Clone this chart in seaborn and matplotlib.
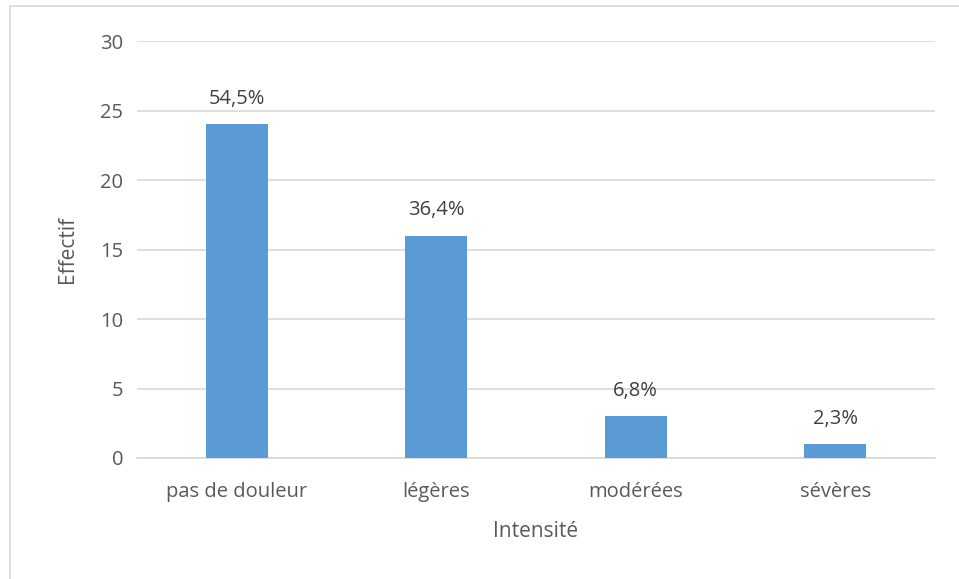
import matplotlib
matplotlib.use("Agg")
import matplotlib.pyplot as plt
import seaborn as sns
import pandas as pd
from matplotlib.lines import Line2D

categories = ["pas de douleur", "légères", "modérées", "sévères"]
values = [24, 16, 3, 1]
pct_labels = ["54,5%", "36,4%", "6,8%", "2,3%"]
yticks = [0, 5, 10, 15, 20, 25, 30]

sns.set_theme(style="white")
plt.rcParams['font.family'] = ['Open Sans', 'DejaVu Sans']
txt = "#595959"

df = pd.DataFrame({"Intensité": categories, "Effectif": values})

fig = plt.figure(figsize=(9.59, 5.79), dpi=100)
ax = fig.add_axes([0.1429, 0.209, 0.975 - 0.1429, 0.929 - 0.209])
sns.barplot(data=df, x="Intensité", y="Effectif", color="#5B9BD5", width=0.31,
            saturation=1, linewidth=0, ax=ax, zorder=3)
ax.set_ylim(0, 30)
ax.set_xlim(-0.5, 3.5)
ax.set_yticks(yticks)
ax.yaxis.grid(True, color="#D9D9D9", linewidth=1.2, zorder=0)
for s in ["top", "right", "left"]:
    ax.spines[s].set_visible(False)
ax.spines["bottom"].set_color("#D9D9D9")
ax.spines["bottom"].set_linewidth(1.2)
ax.tick_params(axis="both", length=0, labelsize=14.5, colors=txt, pad=10)
ax.tick_params(axis="x", pad=17)
ax.set_xlabel("Intensité", fontsize=15, color=txt, labelpad=14)
ax.set_ylabel("Effectif", fontsize=15, color=txt, labelpad=16)

for i, (v, lab) in enumerate(zip(values, pct_labels)):
    ax.annotate(lab, (i, v), xytext=(0, 11), textcoords="offset points",
                ha="center", va="bottom", fontsize=14.5, color="#404040")

fig.add_artist(Line2D([9.5/959, 9.5/959], [0, 1 - 6/579], color="#D9D9D9", lw=1.2))
fig.add_artist(Line2D([9.5/959, 1], [1 - 6/579, 1 - 6/579], color="#D9D9D9", lw=1.2))

fig.savefig("out.png", dpi=100)
